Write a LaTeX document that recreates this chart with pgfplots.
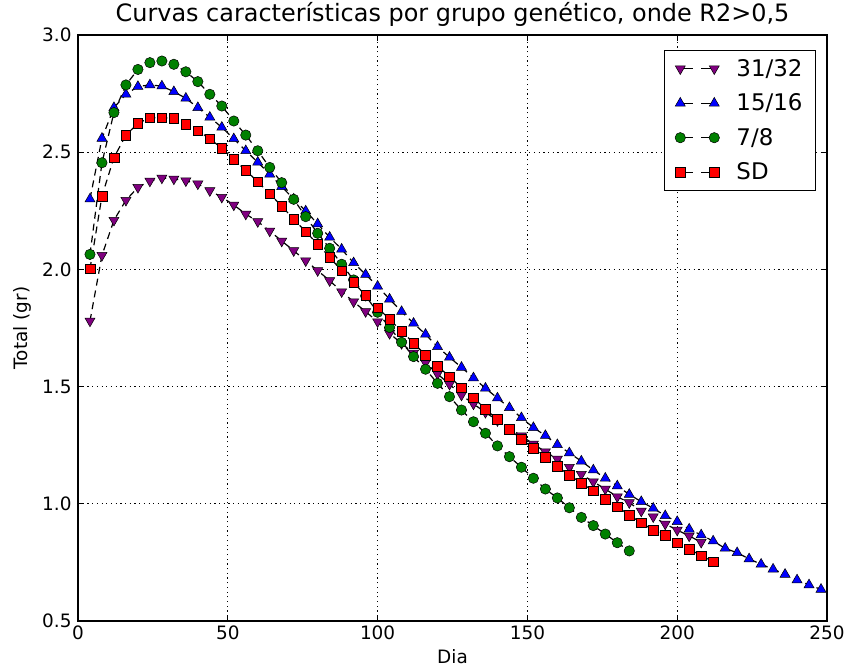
\documentclass[border=0pt]{standalone}
\usepackage{fontspec}
\setmainfont{DejaVu Sans}
\usepackage{pgfplots}
\pgfplotsset{compat=1.18}
\definecolor{mpurple}{RGB}{128,0,128}
\definecolor{mgreen}{RGB}{0,128,0}
\definecolor{mblue}{RGB}{0,0,255}
\definecolor{mred}{RGB}{255,0,0}
\begin{document}
\begin{tikzpicture}
\path[use as bounding box] (0,0) rectangle (847bp,666bp);
\begin{axis}[
  at={(78bp,45bp)}, anchor=south west,
  scale only axis, width=749bp, height=586bp,
  xmin=0, xmax=250, ymin=0.5, ymax=3.0,
  xtick={0,50,100,150,200,250},
  ytick={0.5,1.0,1.5,2.0,2.5,3.0},
  /pgf/number format/assume math mode=true,
  yticklabel style={/pgf/number format/fixed, /pgf/number format/fixed zerofill, /pgf/number format/precision=1, xshift=-3bp},
  ticklabel style={font=\fontsize{18.5}{20}\selectfont},
  xticklabel style={yshift=-1bp},
  tick align=inside,
  major tick length=6bp,
  tick style={black, line width=0.8bp},
  axis line style={black, line width=1.2bp},
  grid=major,
  major grid style={black, line width=0.7bp, dash pattern=on 1.2bp off 3.5bp},
  title={Curvas características por grupo genético, onde R2>0,5},
  title style={font=\fontsize{24}{28}\selectfont, at={(0.5,1.0120)}, anchor=base},
  xlabel={Dia},
  xlabel style={font=\fontsize{18.5}{20}\selectfont, at={(0.5,-0.0717)}, anchor=base},
  ylabel={Total (gr)},
  ylabel style={font=\fontsize{18.5}{20}\selectfont, at={(-0.0668,0.5)}, anchor=base, rotate=0},
  every axis plot/.append style={black, line width=1.2bp, dash pattern=on 7bp off 5bp},
  legend image code/.code={\draw[#1, mark repeat=1, mark phase=1, dash pattern=on 13bp off 8bp] plot coordinates {(0bp,0bp) (34bp,0bp)};},
  legend style={at={(1,1)}, anchor=north east, xshift=-11bp, yshift=-15bp,
    draw=black, line width=1bp, fill=white,
    font=\fontsize{23}{27}\selectfont, row sep=12bp,
    /tikz/every odd column/.append style={column sep=15bp},
    inner xsep=11bp, inner ysep=7bp},
  legend cell align=left,
]
\addplot[mark=triangle*, mark size=5.8bp, mark options={solid, rotate=180, fill=mpurple, draw=black, line width=0.5bp}] coordinates {
(4,1.78) (8,2.06) (12,2.21) (16,2.295) (20,2.35) (24,2.377) (28,2.39) (32,2.386)
(36,2.378) (40,2.365) (44,2.336) (48,2.308) (52,2.275) (56,2.236) (60,2.204) (64,2.164)
(68,2.121) (72,2.080) (76,2.037) (80,1.995) (84,1.952) (88,1.905) (92,1.862) (96,1.820)
(100,1.777) (104,1.727) (108,1.684) (112,1.643) (116,1.602) (120,1.554) (124,1.510)
(128,1.464) (132,1.426) (136,1.390) (140,1.355) (144,1.322) (148,1.290) (152,1.255)
(156,1.222) (160,1.191) (164,1.156) (168,1.126) (172,1.094) (176,1.063) (180,1.030)
(184,1.005) (188,0.969) (192,0.945) (196,0.914) (200,0.888) (204,0.863) (208,0.836)
};
\addlegendentry{31/32}
\addplot[mark=triangle*, mark size=5.8bp, mark options={solid, fill=mblue, draw=black, line width=0.5bp}] coordinates {
(4,2.30) (8,2.559) (12,2.690) (16,2.747) (20,2.780) (24,2.787) (28,2.782) (32,2.758)
(36,2.730) (40,2.690) (44,2.649) (48,2.606) (52,2.557) (56,2.506) (60,2.457) (64,2.406)
(68,2.353) (72,2.300) (76,2.249) (80,2.194) (84,2.137) (88,2.086) (92,2.028) (96,1.978)
(100,1.928) (104,1.873) (108,1.820) (112,1.770) (116,1.723) (120,1.670) (124,1.625)
(128,1.582) (132,1.537) (136,1.493) (140,1.451) (144,1.410) (148,1.367) (152,1.325)
(156,1.291) (160,1.252) (164,1.217) (168,1.182) (172,1.144) (176,1.109) (180,1.076)
(184,1.040) (188,1.009) (192,0.981) (196,0.949) (200,0.924) (204,0.892) (208,0.867)
(212,0.841) (216,0.810) (220,0.791) (224,0.765) (228,0.742) (232,0.721) (236,0.699)
(240,0.675) (244,0.654) (248,0.635)
};
\addlegendentry{15/16}
\addplot[mark=*, mark size=5.2bp, mark options={solid, fill=mgreen, draw=black, line width=0.5bp}] coordinates {
(4,2.064) (8,2.455) (12,2.669) (16,2.787) (20,2.853) (24,2.882) (28,2.889) (32,2.875)
(36,2.843) (40,2.801) (44,2.747) (48,2.697) (52,2.633) (56,2.573) (60,2.506) (64,2.435)
(68,2.370) (72,2.299) (76,2.225) (80,2.154) (84,2.090) (88,2.022) (92,1.955) (96,1.887)
(100,1.817) (104,1.752) (108,1.689) (112,1.628) (116,1.574) (120,1.514) (124,1.457)
(128,1.400) (132,1.350) (136,1.301) (140,1.247) (144,1.201) (148,1.156) (152,1.109)
(156,1.063) (160,1.025) (164,0.983) (168,0.942) (172,0.907) (176,0.871) (180,0.834)
(184,0.799)
};
\addlegendentry{7/8}
\addplot[mark=square*, mark size=4.8bp, mark options={solid, fill=mred, draw=black, line width=0.5bp}] coordinates {
(4,2.002) (8,2.313) (12,2.477) (16,2.573) (20,2.623) (24,2.647) (28,2.647) (32,2.645)
(36,2.619) (40,2.592) (44,2.557) (48,2.517) (52,2.470) (56,2.422) (60,2.374) (64,2.323)
(68,2.270) (72,2.214) (76,2.161) (80,2.108) (84,2.052) (88,1.994) (92,1.944) (96,1.889)
(100,1.837) (104,1.787) (108,1.737) (112,1.685) (116,1.635) (120,1.588) (124,1.542)
(128,1.495) (132,1.453) (136,1.404) (140,1.360) (144,1.318) (148,1.276) (152,1.237)
(156,1.198) (160,1.159) (164,1.123) (168,1.088) (172,1.055) (176,1.019) (180,0.988)
(184,0.952) (188,0.919) (192,0.888) (196,0.867) (200,0.834) (204,0.807) (208,0.779)
(212,0.753)
};
\addlegendentry{SD}
\end{axis}
\end{tikzpicture}
\end{document}
